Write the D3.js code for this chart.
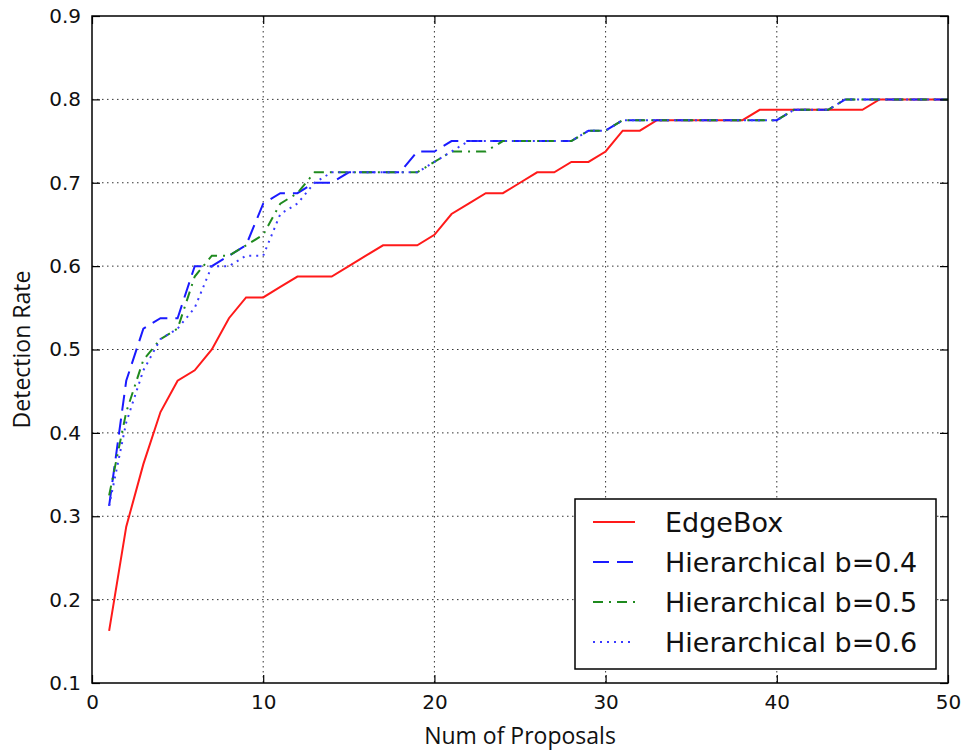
<!DOCTYPE html>
<html>
<head>
<meta charset="utf-8">
<script src="https://cdn.jsdelivr.net/npm/d3@7"></script>
<style>
html,body{margin:0;padding:0;background:#fff;}
svg{display:block;}
</style>
</head>
<body>
<svg id="chart" width="966" height="751"></svg>
<script>
// ---- data ----
const proposals = d3.range(1, 51);
const edgeBox = [0.1625,0.2875,0.3625,0.425,0.4625,0.475,0.5,0.5375,0.5625,0.5625,
  0.575,0.5875,0.5875,0.5875,0.6,0.6125,0.625,0.625,0.625,0.6375,
  0.6625,0.675,0.6875,0.6875,0.7,0.7125,0.7125,0.725,0.725,0.7375,
  0.7625,0.7625,0.775,0.775,0.775,0.775,0.775,0.775,0.7875,0.7875,
  0.7875,0.7875,0.7875,0.7875,0.7875,0.8,0.8,0.8,0.8,0.8];
const hierB04 = [0.3125,0.4625,0.525,0.5375,0.5375,0.6,0.6,0.6125,0.625,0.675,
  0.6875,0.6875,0.7,0.7,0.7125,0.7125,0.7125,0.7125,0.7375,0.7375,
  0.75,0.75,0.75,0.75,0.75,0.75,0.75,0.75,0.7625,0.7625,
  0.775,0.775,0.775,0.775,0.775,0.775,0.775,0.775,0.775,0.775,
  0.7875,0.7875,0.7875,0.8,0.8,0.8,0.8,0.8,0.8,0.8];
const hierB05 = [0.325,0.425,0.4875,0.5125,0.525,0.5875,0.6125,0.6125,0.625,0.6375,
  0.675,0.6875,0.7125,0.7125,0.7125,0.7125,0.7125,0.7125,0.7125,0.725,
  0.7375,0.7375,0.7375,0.75,0.75,0.75,0.75,0.75,0.7625,0.7625,
  0.775,0.775,0.775,0.775,0.775,0.775,0.775,0.775,0.775,0.775,
  0.7875,0.7875,0.7875,0.8,0.8,0.8,0.8,0.8,0.8,0.8];
const hierB06 = [0.3125,0.4125,0.475,0.5125,0.525,0.55,0.6,0.6,0.6125,0.6125,
  0.6625,0.675,0.7,0.7125,0.7125,0.7125,0.7125,0.7125,0.7125,0.725,
  0.7375,0.75,0.75,0.75,0.75,0.75,0.75,0.75,0.7625,0.7625,
  0.775,0.775,0.775,0.775,0.775,0.775,0.775,0.775,0.775,0.775,
  0.7875,0.7875,0.7875,0.8,0.8,0.8,0.8,0.8,0.8,0.8];
const seriesNames = ["EdgeBox","Hierarchical b=0.4","Hierarchical b=0.5","Hierarchical b=0.6"];
const xTicks = [0,10,20,30,40,50];
const yTicks = [0.1,0.2,0.3,0.4,0.5,0.6,0.7,0.8,0.9];
const xTitle = "Num of Proposals";
const yTitle = "Detection Rate";

// ---- styles ----
const styles = [
  {color:"#ff1a1a", dash:null},
  {color:"#1a1aff", dash:"16,8"},
  {color:"#1f8a1f", dash:"10,6,2,6"},
  {color:"#3a3aff", dash:"2,5"}
];
const seriesData = [edgeBox, hierB04, hierB05, hierB06];

const svg = d3.select("#chart");
const m = {left:92, top:16, right:966-948, bottom:751-683};
const W = 966 - m.left - m.right, H = 751 - m.top - m.bottom;
const g = svg.append("g").attr("transform", `translate(${m.left},${m.top})`);

const x = d3.scaleLinear().domain([0,50]).range([0,W]);
const y = d3.scaleLinear().domain([0.1,0.9]).range([H,0]);

// grid
g.append("g").selectAll("line").data(xTicks.slice(1,-1)).join("line")
  .attr("x1",d=>x(d)).attr("x2",d=>x(d)).attr("y1",0).attr("y2",H)
  .attr("stroke","#333").attr("stroke-width",1).attr("stroke-dasharray","1.5,3.5");
g.append("g").selectAll("line").data(yTicks.slice(1,-1)).join("line")
  .attr("y1",d=>y(d)).attr("y2",d=>y(d)).attr("x1",0).attr("x2",W)
  .attr("stroke","#333").attr("stroke-width",1).attr("stroke-dasharray","1.5,3.5");

// lines
const line = d3.line().x((d,i)=>x(proposals[i])).y(d=>y(d));
seriesData.forEach((s,k)=>{
  g.append("path").datum(s).attr("d",line).attr("fill","none")
    .attr("stroke",styles[k].color).attr("stroke-width",2)
    .attr("stroke-dasharray",styles[k].dash);
});

// axes (ticks inward)
const fontTick = "DejaVu Sans";
const xAxis = d3.axisBottom(x).tickValues(xTicks).tickSize(-8).tickPadding(12).tickFormat(d3.format("d"));
const yAxis = d3.axisLeft(y).tickValues(yTicks).tickSize(-8).tickPadding(11).tickFormat(d3.format(".1f"));
const xTop = d3.axisTop(x).tickValues(xTicks).tickSize(-8).tickFormat("");
const yRight = d3.axisRight(y).tickValues(yTicks).tickSize(-8).tickFormat("");

const ax = g.append("g").attr("transform",`translate(0,${H})`).call(xAxis);
const ay = g.append("g").call(yAxis);
g.append("g").call(xTop);
g.append("g").attr("transform",`translate(${W},0)`).call(yRight);
g.selectAll(".domain").remove();
g.selectAll(".tick line").attr("stroke","#000").attr("stroke-width",1.2);
ax.selectAll("text").attr("font-family",fontTick).attr("font-size",20).attr("fill","#111");
ay.selectAll("text").attr("font-family",fontTick).attr("font-size",20).attr("fill","#111");

// frame
g.append("rect").attr("x",0).attr("y",0).attr("width",W).attr("height",H)
  .attr("fill","none").attr("stroke","#000").attr("stroke-width",1.5);

// titles
svg.append("text").attr("x",m.left+W/2).attr("y",744).attr("text-anchor","middle")
  .attr("font-family","Open Sans").attr("font-size",23).attr("fill","#111").text(xTitle);
svg.append("text").attr("transform",`translate(30,${m.top+H/2}) rotate(-90)`).attr("text-anchor","middle")
  .attr("font-family","Open Sans").attr("font-size",23).attr("fill","#111").text(yTitle);

// legend
const lg = svg.append("g");
lg.append("rect").attr("x",575).attr("y",499).attr("width",361).attr("height",170)
  .attr("fill","#fff").attr("stroke","#000").attr("stroke-width",1.5);
seriesNames.forEach((name,k)=>{
  const yy = 522 + k*40;
  lg.append("line").attr("x1",593).attr("x2",635).attr("y1",yy).attr("y2",yy)
    .attr("stroke",styles[k].color).attr("stroke-width",2).attr("stroke-dasharray",styles[k].dash);
  lg.append("text").attr("x",665).attr("y",yy).attr("dy","0.36em")
    .attr("font-family","DejaVu Sans").attr("font-size",27).attr("fill","#111").text(name);
});
</script>
</body>
</html>
